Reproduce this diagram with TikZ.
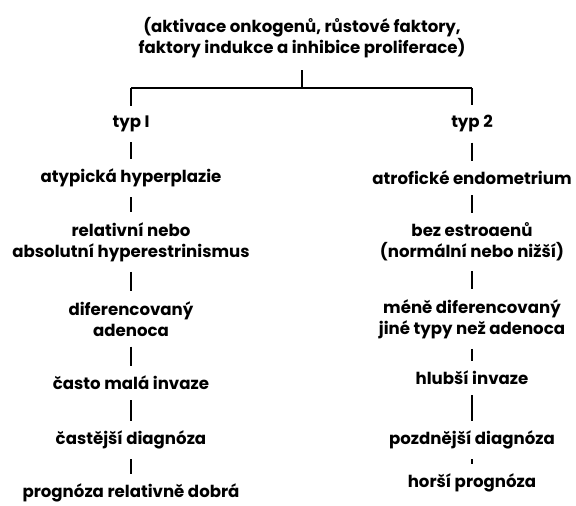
\documentclass[tikz,border=0pt]{standalone}
\usepackage{fontspec}
\setmainfont{Poppins}
\begin{document}
\begin{tikzpicture}[x=1pt,y=-1pt,
  txt/.style={align=center,font=\fontsize{16.6}{21}\selectfont\bfseries,inner sep=10pt},
  bar/.style={line width=2.4pt}]
  \useasboundingbox (0,0) rectangle (576,506);
  \node[txt,inner sep=12pt](top) at (302,38) {(aktivace onkogenů, růstové faktory,\\faktory indukce a inhibice proliferace)};
  \coordinate (split) at (302,88);
  \coordinate (lsplit) at (131,88);
  \coordinate (rsplit) at (472,88);
  \node[txt](typa) at (131,124) {typ I};
  \node[txt](atyp) at (131,178) {atypická hyperplazie};
  \node[txt](hyper) at (131,242) {relativní nebo\\absolutní hyperestrinismus};
  \node[txt](difa) at (131,319) {diferencovaný\\adenoca};
  \node[txt](inva) at (131,383) {často malá invaze};
  \node[txt](diaga) at (131,440) {častější diagnóza};
  \node[txt](proga) at (131,493) {prognóza relativně dobrá};
  \node[txt](typb) at (472,124) {typ 2};
  \node[txt](atrof) at (472,178) {atrofické endometrium};
  \node[txt](estr) at (472,242) {bez estroaenů\\(normální nebo nižší)};
  \node[txt](difb) at (472,319) {méně diferencovaný\\jiné typy než adenoca};
  \node[txt](invb) at (472,378) {hlubší invaze};
  \node[txt](diagb) at (472,440) {pozdnější diagnóza};
  \node[txt](progb) at (472,483) {horší prognóza};
  \draw[bar](top)--(split);
  \draw[bar](lsplit)--(rsplit);
  \draw[bar](lsplit)--(typa);
  \draw[bar](rsplit)--(typb);
  \foreach \a/\b in {typa/atyp,atyp/hyper,hyper/difa,difa/inva,inva/diaga,diaga/proga,
    typb/atrof,atrof/estr,estr/difb,difb/invb,invb/diagb,diagb/progb}
    \draw[bar](\a)--(\b);
\end{tikzpicture}
\end{document}
